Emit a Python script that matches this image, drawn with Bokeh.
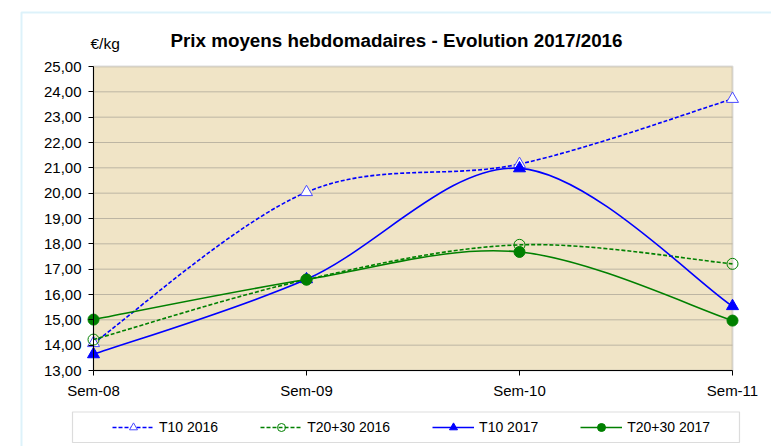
from bokeh.plotting import figure
from bokeh.models import Range1d, FixedTicker, Label, BoxAnnotation, Legend, LegendItem, ColumnDataSource
from bokeh.embed import file_html
from bokeh.resources import INLINE

# ---- data ----
weeks = ["Sem-08", "Sem-09", "Sem-10", "Sem-11"]
t10_2016 = [14.08, 20.04, 21.15, 23.72]
t2030_2016 = [14.22, 16.59, 17.96, 17.21]
t10_2017 = [13.64, 16.60, 20.98, 15.54]
t2030_2017 = [15.01, 16.59, 17.68, 14.97]
y_ticks = [13, 14, 15, 16, 17, 18, 19, 20, 21, 22, 23, 24, 25]
y_tick_labels = ["13,00", "14,00", "15,00", "16,00", "17,00", "18,00", "19,00",
                 "20,00", "21,00", "22,00", "23,00", "24,00", "25,00"]
title_text = "Prix moyens hebdomadaires - Evolution 2017/2016"
unit_text = "€/kg"

FONT = "Liberation Sans"
BLUE = "#0000FF"
GREEN = "#008000"
W, H = 771, 446
PL, PR, PT, PB = 93, 732, 66, 370          # plot-area edges in pixels
X0, X1 = 0, len(weeks) - 1
Y_MIN, Y_MAX = y_ticks[0], y_ticks[-1]
PXX = (PR - PL) / (X1 - X0)                # pixels per category step
PXY = (PB - PT) / (Y_MAX - Y_MIN)          # pixels per euro


def dx(px):
    return X0 + (px - PL) / PXX


def dy(py):
    return Y_MAX - (py - PT) / PXY


xs = list(range(len(weeks)))


def smooth(xv, yv, t=1.0 / 6.0):
    """Bezier control points for an Excel-like smoothed line."""
    n = len(xv)
    d = dict(x0=[], y0=[], x1=[], y1=[], cx0=[], cy0=[], cx1=[], cy1=[])
    for i in range(n - 1):
        a = max(i - 1, 0)
        b = min(i + 2, n - 1)
        d["x0"].append(xv[i]); d["y0"].append(yv[i])
        d["x1"].append(xv[i + 1]); d["y1"].append(yv[i + 1])
        d["cx0"].append(xv[i] + (xv[i + 1] - xv[a]) * t)
        d["cy0"].append(yv[i] + (yv[i + 1] - yv[a]) * t)
        d["cx1"].append(xv[i + 1] - (xv[b] - xv[i]) * t)
        d["cy1"].append(yv[i + 1] - (yv[b] - yv[i]) * t)
    return ColumnDataSource(d)


p = figure(width=W, height=H, output_backend="svg", toolbar_location=None,
           x_range=Range1d(dx(0), dx(W)), y_range=Range1d(dy(H), dy(0)),
           min_border_left=0, min_border_right=0, min_border_top=0, min_border_bottom=0)
p.background_fill_color = "white"
p.border_fill_color = "white"
p.outline_line_color = None
p.xgrid.visible = False
p.ygrid.visible = False

# outer light-blue chart frame (runs off the right and bottom edges)
p.add_layout(BoxAnnotation(left=dx(21), right=dx(W + 20), top=dy(12), bottom=dy(H + 20),
                           fill_alpha=0, line_color="#8ED3F0", line_width=2, level="image"))
# parchment plot area with grey edge
p.add_layout(BoxAnnotation(left=X0, right=X1, bottom=Y_MIN, top=Y_MAX, fill_color="#F0E4C6",
                           fill_alpha=1, line_color="#8C8C8C", line_width=2, level="image"))
# legend frame
p.add_layout(BoxAnnotation(left=dx(72), right=dx(739), top=dy(411.5), bottom=dy(442),
                           fill_alpha=0, line_color="#8C8C8C", line_width=1.2, level="image"))

# horizontal grid lines at the value ticks
p.segment(x0=X0, x1=X1, y0=y_ticks[1:-1], y1=y_ticks[1:-1],
          line_color="#BDB5A3", line_width=1, level="underlay")

p.xaxis.ticker = FixedTicker(ticks=xs)
p.xaxis.major_label_overrides = {i: w for i, w in enumerate(weeks)}
p.xaxis.fixed_location = Y_MIN
p.xaxis.bounds = (X0, X1)
p.yaxis.ticker = FixedTicker(ticks=y_ticks)
p.yaxis.major_label_overrides = {v: s for v, s in zip(y_ticks, y_tick_labels)}
p.yaxis.fixed_location = X0
p.yaxis.bounds = (Y_MIN, Y_MAX)
for ax in (p.xaxis, p.yaxis):
    ax.axis_line_color = "black"
    ax.axis_line_width = 1
    ax.major_tick_in = 0
    ax.major_tick_out = 5
    ax.minor_tick_line_color = None
    ax.major_tick_line_color = "black"
    ax.major_label_text_font = FONT
    ax.major_label_text_font_size = "15px"
    ax.major_label_text_color = "black"
p.yaxis.major_label_standoff = 7
p.xaxis.major_label_standoff = 6

series = [
    ("T10 2016", t10_2016, BLUE, "4 2", "triangle", "white", "#4A4AFF", 12),
    ("T20+30 2016", t2030_2016, GREEN, "4 2", "circle", None, GREEN, 11),
    ("T10 2017", t10_2017, BLUE, "solid", "triangle", BLUE, BLUE, 12),
    ("T20+30 2017", t2030_2017, GREEN, "solid", "circle", GREEN, GREEN, 11),
]

items = []
for name, vals, col, dash, marker, fill, mline, size in series:
    src = smooth(xs, vals)
    br = p.bezier(x0="x0", y0="y0", x1="x1", y1="y1", cx0="cx0", cy0="cy0",
                  cx1="cx1", cy1="cy1", source=src, line_color=col, line_width=1.6,
                  line_dash=dash)
    sr = p.scatter(xs, vals, marker=marker, size=size, fill_color=fill,
                   line_color=mline, line_width=1)
    items.append(LegendItem(label=name, renderers=[br, sr]))

legend = Legend(items=items, orientation="horizontal", location=(112, 9),
                glyph_width=42, glyph_height=20, label_standoff=5, spacing=42,
                padding=5, margin=0, border_line_color=None, background_fill_alpha=0,
                label_text_font=FONT, label_text_font_size="14px", label_text_color="black")
p.add_layout(legend, "center")

p.add_layout(Label(x=dx(396), y=dy(40), text=title_text, text_font=FONT,
                   text_font_size="18.8px", text_font_style="bold", text_align="center",
                   text_baseline="middle", text_color="black"))
p.add_layout(Label(x=dx(90), y=dy(43), text=unit_text, text_font=FONT,
                   text_font_size="15.5px", text_align="left", text_baseline="middle",
                   text_color="black"))

open("out.html", "w").write(file_html(p, INLINE))
